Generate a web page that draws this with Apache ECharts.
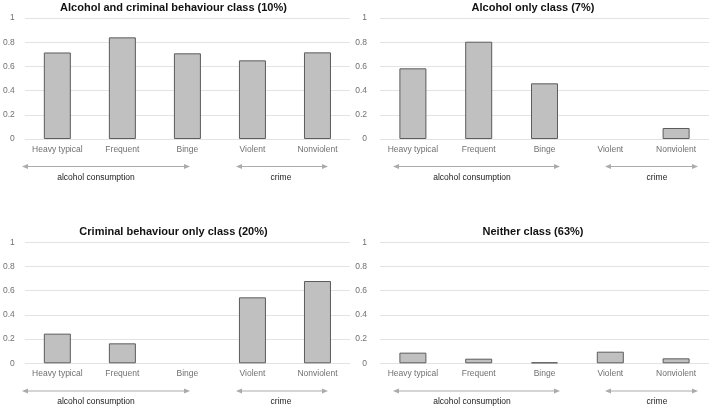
<!DOCTYPE html>
<html>
<head>
<meta charset="utf-8">
<script src="https://cdn.jsdelivr.net/npm/echarts@6/dist/echarts.min.js"></script>
<style>
  html, body { margin: 0; padding: 0; background: #fff; }
  #main { width: 709px; height: 408px; }
</style>
</head>
<body>
<div id="main"></div>
<script>
// categories and values
const categories = ['Heavy typical', 'Frequent', 'Binge', 'Violent', 'Nonviolent'];
const titles = [
  'Alcohol and criminal behaviour class (10%)',
  'Alcohol only class (7%)',
  'Criminal behaviour only class (20%)',
  'Neither class (63%)'
];
const alcoholAndCriminal = [0.715, 0.84, 0.708, 0.65, 0.716];
const alcoholOnly = [0.584, 0.804, 0.46, 0, 0.091];
const criminalOnly = [0.245, 0.165, 0, 0.545, 0.68];
const neither = [0.088, 0.038, 0.008, 0.096, 0.041];
const groupLabels = ['alcohol consumption', 'crime'];

const seriesData = [alcoholAndCriminal, alcoholOnly, criminalOnly, neither];

const FONT = 'Liberation Sans, Arial, sans-serif';
const rowTop = [18, 242.3];
const colLeft = [20, 380];
const labelMargin = [10, 13];
const titleX = [173.5, 533];
const titleTop = [2, 226];
const plotW = 330, plotH = 121;

const chart = echarts.init(document.getElementById('main'));

const grids = [], xAxes = [], yAxes = [], series = [], title = [];
seriesData.forEach(function (vals, i) {
  const r = Math.floor(i / 2), c = i % 2;
  grids.push({ left: colLeft[c], top: rowTop[r], width: plotW, height: plotH });
  xAxes.push({
    type: 'category', gridIndex: i, data: categories,
    axisLine: { show: false }, axisTick: { show: false },
    axisLabel: { color: '#707070', fontSize: 8.5, fontFamily: FONT, margin: 6, interval: 0 }
  });
  yAxes.push({
    type: 'value', gridIndex: i, min: 0, max: 1, interval: 0.2,
    axisLine: { show: false }, axisTick: { show: false },
    axisLabel: { color: '#707070', fontSize: 8.5, fontFamily: FONT, margin: labelMargin[c] },
    splitLine: { lineStyle: { color: '#e3e3e3', width: 1 } }
  });
  series.push({
    type: 'bar', xAxisIndex: i, yAxisIndex: i, barWidth: 27,
    itemStyle: { color: '#c0c0c0', borderColor: '#5c5c5c', borderWidth: 1 },
    data: vals.map(function (v) {
      return v === 0 ? { value: v, itemStyle: { borderWidth: 0 } } : v;
    })
  });
  title.push({
    text: titles[i], left: titleX[c], top: titleTop[r], padding: 0,
    textAlign: 'center',
    textStyle: { fontSize: 11, fontWeight: 'bold', color: '#111', fontFamily: FONT }
  });
});

// bracket arrows under the category labels
const arrowSpans = [
  [[22, 190], [236, 328]],
  [[393, 560], [605, 698]]
];
const labelX = [[96, 281], [472, 657]];
const arrowY = [166.5, 391];
const labelY = [178, 402];
const graphic = [];
function arrow(x1, x2, y) {
  const col = '#ababab';
  graphic.push({ type: 'line', shape: { x1: x1 + 4, y1: y, x2: x2 - 4, y2: y }, style: { stroke: col, lineWidth: 1 } });
  graphic.push({ type: 'polygon', shape: { points: [[x1, y], [x1 + 6, y - 2.5], [x1 + 6, y + 2.5]] }, style: { fill: col } });
  graphic.push({ type: 'polygon', shape: { points: [[x2, y], [x2 - 6, y - 2.5], [x2 - 6, y + 2.5]] }, style: { fill: col } });
}
for (let r = 0; r < 2; r++) {
  for (let c = 0; c < 2; c++) {
    arrowSpans[c].forEach(function (s, k) {
      arrow(s[0], s[1], arrowY[r]);
      graphic.push({
        type: 'text', x: labelX[c][k], y: labelY[r],
        style: { text: groupLabels[k], fill: '#222', font: '8.5px ' + FONT, textAlign: 'center', textVerticalAlign: 'middle' }
      });
    });
  }
}

chart.setOption({
  animation: false,
  title: title,
  grid: grids,
  xAxis: xAxes,
  yAxis: yAxes,
  series: series,
  graphic: graphic
});
</script>
</body>
</html>
